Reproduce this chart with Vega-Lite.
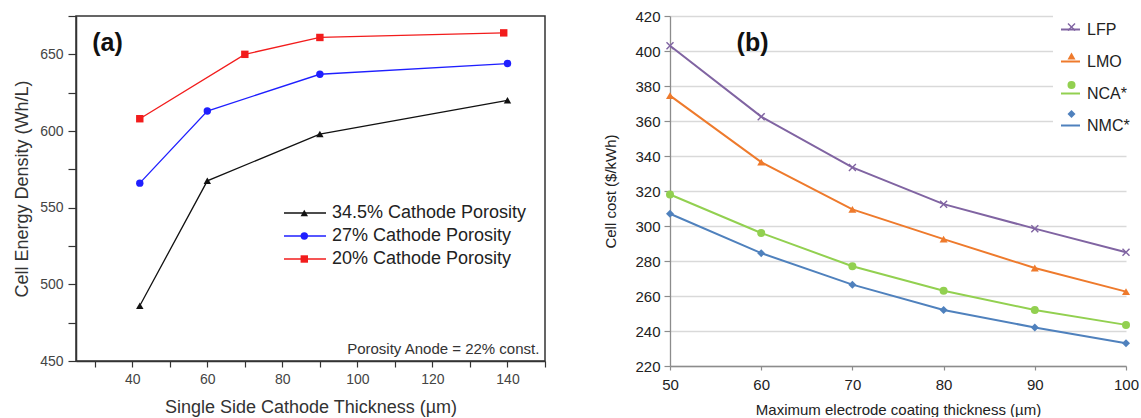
{
  "$schema": "https://vega.github.io/schema/vega-lite/v6.json",
  "padding": {"left": 12, "top": 8, "right": 0, "bottom": 0},
  "bounds": "flush",
  "spacing": 125,
  "resolve": {
    "scale": {"fill": "independent", "stroke": "independent", "shape": "independent"},
    "legend": {"fill": "independent", "stroke": "independent", "shape": "independent"}
  },
  "config": {"font": "Liberation Sans", "background": "white", "axis": {"labelOverlap": false, "tickCount": 30}, "legend": {"labelLimit": 400}},
  "datasets": {
    "energy": [
      {"porosity": "34.5% Cathode Porosity", "thickness": 42, "density": 486},
      {"porosity": "34.5% Cathode Porosity", "thickness": 60, "density": 567.5},
      {"porosity": "34.5% Cathode Porosity", "thickness": 90, "density": 598},
      {"porosity": "34.5% Cathode Porosity", "thickness": 140, "density": 620},
      {"porosity": "27% Cathode Porosity", "thickness": 42, "density": 566},
      {"porosity": "27% Cathode Porosity", "thickness": 60, "density": 613},
      {"porosity": "27% Cathode Porosity", "thickness": 90, "density": 637},
      {"porosity": "27% Cathode Porosity", "thickness": 140, "density": 644},
      {"porosity": "20% Cathode Porosity", "thickness": 42, "density": 608},
      {"porosity": "20% Cathode Porosity", "thickness": 70, "density": 650},
      {"porosity": "20% Cathode Porosity", "thickness": 90, "density": 661},
      {"porosity": "20% Cathode Porosity", "thickness": 139, "density": 664}
    ],
    "cost": [
      {"chemistry": "LFP", "coating": 50, "cost": 403},
      {"chemistry": "LFP", "coating": 60, "cost": 362.5},
      {"chemistry": "LFP", "coating": 70, "cost": 333.5},
      {"chemistry": "LFP", "coating": 80, "cost": 312.5},
      {"chemistry": "LFP", "coating": 90, "cost": 298.5},
      {"chemistry": "LFP", "coating": 100, "cost": 285},
      {"chemistry": "LMO", "coating": 50, "cost": 374.5},
      {"chemistry": "LMO", "coating": 60, "cost": 336.5},
      {"chemistry": "LMO", "coating": 70, "cost": 309.5},
      {"chemistry": "LMO", "coating": 80, "cost": 292.5},
      {"chemistry": "LMO", "coating": 90, "cost": 276},
      {"chemistry": "LMO", "coating": 100, "cost": 262.5},
      {"chemistry": "NCA*", "coating": 50, "cost": 318},
      {"chemistry": "NCA*", "coating": 60, "cost": 296},
      {"chemistry": "NCA*", "coating": 70, "cost": 277},
      {"chemistry": "NCA*", "coating": 80, "cost": 263},
      {"chemistry": "NCA*", "coating": 90, "cost": 252},
      {"chemistry": "NCA*", "coating": 100, "cost": 243.5},
      {"chemistry": "NMC*", "coating": 50, "cost": 307},
      {"chemistry": "NMC*", "coating": 60, "cost": 284.5},
      {"chemistry": "NMC*", "coating": 70, "cost": 266.5},
      {"chemistry": "NMC*", "coating": 80, "cost": 252},
      {"chemistry": "NMC*", "coating": 90, "cost": 242},
      {"chemistry": "NMC*", "coating": 100, "cost": 233}
    ]
  },
  "hconcat": [
    {
      "width": 469,
      "height": 345,
      "view": {"stroke": "#333333", "strokeWidth": 1.5},
      "layer": [
        {
          "data": {"name": "energy"},
          "mark": {"type": "line", "strokeWidth": 1.3},
          "encoding": {
            "x": {
              "field": "thickness", "type": "quantitative",
              "scale": {"domain": [25, 150], "nice": false, "zero": false},
              "axis": {
                "title": "Single Side Cathode Thickness (µm)",
                "values": [30, 40, 50, 60, 70, 80, 90, 100, 110, 120, 130, 140, 150],
                "tickCount": 30,
                "labelExpr": "datum.value % 20 === 0 ? datum.label : ''",
                "labelFlush": false, "labelOverlap": false, "grid": false,
                "domainColor": "#333333", "domainWidth": 1.5,
                "tickColor": "#333333", "tickWidth": 1.2, "tickSize": 6,
                "labelFontSize": 14, "labelColor": "#444444", "labelPadding": 5,
                "titleFontSize": 18, "titleFontWeight": "normal", "titleColor": "#333333", "titlePadding": 12
              }
            },
            "y": {
              "field": "density", "type": "quantitative",
              "scale": {"domain": [450, 675], "nice": false, "zero": false},
              "axis": {
                "title": "Cell Energy Density (Wh/L)",
                "values": [450, 475, 500, 525, 550, 575, 600, 625, 650, 675],
                "tickCount": 30,
                "labelExpr": "datum.value % 50 === 0 ? datum.label : ''",
                "labelOverlap": false, "grid": false,
                "domainColor": "#333333", "domainWidth": 1.5,
                "tickColor": "#333333", "tickWidth": 1.2, "tickSize": 8,
                "labelFontSize": 14, "labelColor": "#444444", "labelPadding": 5,
                "titleFontSize": 18, "titleFontWeight": "normal", "titleColor": "#333333", "titlePadding": 8
              }
            },
            "stroke": {
              "field": "porosity", "type": "nominal",
              "scale": {"domain": ["34.5% Cathode Porosity", "27% Cathode Porosity", "20% Cathode Porosity"], "range": ["#111111", "#1f1fff", "#f21c1c"]},
              "legend": {
                "title": null, "orient": "none", "legendX": 220, "legendY": 188,
                "padding": 0, "symbolSize": 196, "symbolType": "M-3,0L3,0", "symbolStrokeWidth": 1.3,
                "labelOffset": 18, "labelFontSize": 18, "labelColor": "#222222", "rowPadding": 5, "labelLimit": 400
              }
            }
          }
        },
        {
          "data": {"name": "energy"},
          "mark": {"type": "point", "filled": true, "opacity": 1, "size": 55},
          "encoding": {
            "x": {"field": "thickness", "type": "quantitative"},
            "y": {"field": "density", "type": "quantitative"},
            "shape": {
              "field": "porosity", "type": "nominal",
              "scale": {"domain": ["34.5% Cathode Porosity", "27% Cathode Porosity", "20% Cathode Porosity", "_"], "range": ["triangle-up", "circle", "square", "circle"]},
              "legend": {
                "title": null, "orient": "none", "legendX": 219.3, "legendY": 188,
                "padding": 0, "symbolSize": 55, "labelOffset": 0, "labelFontSize": 18, "labelOpacity": 0,
                "labelExpr": "' '", "rowPadding": 5, "labelLimit": 400,
                "values": ["34.5% Cathode Porosity", "27% Cathode Porosity", "20% Cathode Porosity"]
              }
            },
            "fill": {
              "field": "porosity", "type": "nominal",
              "scale": {"domain": ["34.5% Cathode Porosity", "27% Cathode Porosity", "20% Cathode Porosity", "_"], "range": ["#111111", "#1f1fff", "#f21c1c", "#ffffff"]},
              "legend": {
                "title": null, "orient": "none", "legendX": 219.3, "legendY": 188,
                "padding": 0, "symbolSize": 55, "labelOffset": 0, "labelFontSize": 18, "labelOpacity": 0,
                "labelExpr": "' '", "rowPadding": 5, "labelLimit": 400,
                "values": ["34.5% Cathode Porosity", "27% Cathode Porosity", "20% Cathode Porosity"]
              }
            }
          }
        },
        {
          "data": {"values": [{}]},
          "mark": {"type": "text", "text": "(a)", "fontSize": 25, "fontWeight": "bold", "color": "#111111", "align": "center", "baseline": "middle"},
          "encoding": {"x": {"datum": 33.4}, "y": {"datum": 657.5}}
        },
        {
          "data": {"values": [{}]},
          "mark": {"type": "text", "text": "Porosity Anode = 22% const.", "fontSize": 15, "color": "#333333", "align": "right", "baseline": "middle"},
          "encoding": {"x": {"datum": 148.5}, "y": {"datum": 458}}
        }
      ]
    },
    {
      "width": 456,
      "height": 350,
      "view": {"stroke": null},
      "layer": [
        {
          "data": {"name": "cost"},
          "mark": {"type": "line", "strokeWidth": 2},
          "encoding": {
            "x": {
              "field": "coating", "type": "quantitative",
              "scale": {"domain": [50, 100], "nice": false, "zero": false},
              "axis": {
                "title": "Maximum electrode coating thickness (µm)",
                "values": [50, 60, 70, 80, 90, 100],
                "tickCount": 30,
                "labelFlush": false, "labelOverlap": false, "grid": false,
                "domainColor": "#8c8c8c", "domainWidth": 1.3,
                "tickColor": "#8c8c8c", "tickWidth": 1.2, "tickSize": 4,
                "labelFontSize": 15, "labelColor": "#222222", "labelPadding": 7,
                "titleFontSize": 15, "titleFontWeight": "normal", "titleColor": "#222222", "titlePadding": 10
              }
            },
            "y": {
              "field": "cost", "type": "quantitative",
              "scale": {"domain": [220, 420], "nice": false, "zero": false},
              "axis": {
                "title": "Cell cost ($/kWh)",
                "values": [220, 240, 260, 280, 300, 320, 340, 360, 380, 400, 420],
                "tickCount": 30,
                "labelOverlap": false, "grid": true, "gridColor": "#d9d9d9", "gridWidth": 1.3,
                "domainColor": "#8c8c8c", "domainWidth": 1.3,
                "tickColor": "#8c8c8c", "tickWidth": 1.2, "tickSize": 6,
                "labelFontSize": 15, "labelColor": "#222222", "labelPadding": 4,
                "titleFontSize": 15, "titleFontWeight": "normal", "titleColor": "#222222", "titlePadding": 16
              }
            },
            "stroke": {
              "field": "chemistry", "type": "nominal",
              "scale": {"domain": ["LFP", "LMO", "NCA*", "NMC*"], "range": ["#8064a2", "#ee7a2c", "#92d050", "#4f81bd"]},
              "legend": {
                "title": null, "orient": "none", "legendX": 383, "legendY": -4,
                "fillColor": "white", "padding": 7, "symbolSize": 361, "symbolType": "M-1,0L1,0", "symbolStrokeWidth": 2,
                "labelOffset": 6, "labelFontSize": 16, "labelColor": "#222222", "rowPadding": 13
              }
            }
          }
        },
        {
          "data": {"name": "cost"},
          "mark": {"type": "point", "filled": true, "opacity": 1, "size": 64},
          "encoding": {
            "x": {"field": "coating", "type": "quantitative"},
            "y": {"field": "cost", "type": "quantitative"},
            "shape": {
              "field": "chemistry", "type": "nominal",
              "scale": {"domain": ["LFP", "LMO", "NCA*", "NMC*", "_"], "range": ["M-1,-0.75L-0.75,-1L0,-0.25L0.75,-1L1,-0.75L0.25,0L1,0.75L0.75,1L0,0.25L-0.75,1L-1,0.75L-0.25,0Z", "triangle-up", "circle", "diamond", "circle"]},
              "legend": {
                "title": null, "orient": "none", "legendX": 386.5, "legendY": -4,
                "padding": 7, "symbolSize": 64, "labelOffset": 0, "labelFontSize": 16, "labelOpacity": 0,
                "labelExpr": "' '", "rowPadding": 13,
                "values": ["LFP", "LMO", "NCA*", "NMC*"]
              }
            },
            "fill": {
              "field": "chemistry", "type": "nominal",
              "scale": {"domain": ["LFP", "LMO", "NCA*", "NMC*", "_"], "range": ["#8064a2", "#ee7a2c", "#92d050", "#4f81bd", "#ffffff"]},
              "legend": {
                "title": null, "orient": "none", "legendX": 386.5, "legendY": -4,
                "padding": 7, "symbolSize": 64, "labelOffset": 0, "labelFontSize": 16, "labelOpacity": 0,
                "labelExpr": "' '", "rowPadding": 13,
                "values": ["LFP", "LMO", "NCA*", "NMC*"]
              }
            }
          }
        },
        {
          "data": {"values": [{}]},
          "mark": {"type": "text", "text": "(b)", "fontSize": 25, "fontWeight": "bold", "color": "#111111", "align": "center", "baseline": "middle"},
          "encoding": {"x": {"datum": 59.05}, "y": {"datum": 404.8}}
        }
      ]
    }
  ]
}
